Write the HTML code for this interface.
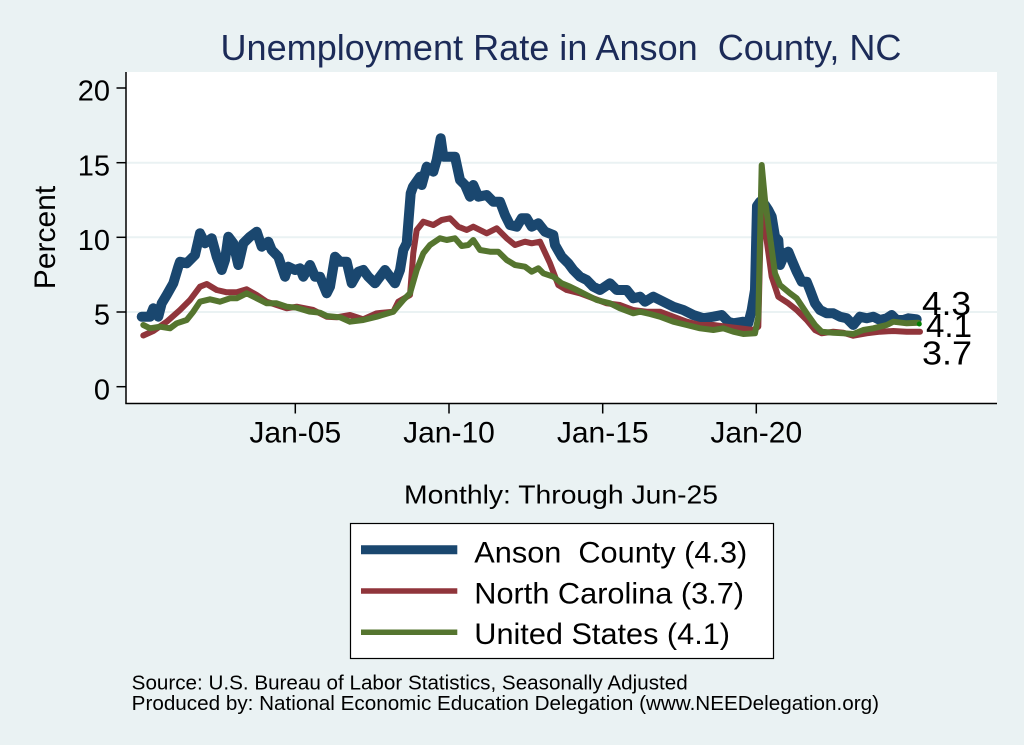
<!DOCTYPE html>
<html>
<head>
<meta charset="utf-8">
<style>
  html,body{margin:0;padding:0;background:#eaf2f3;}
  svg{display:block;}
  text{font-family:"Liberation Sans",Arial,Helvetica,sans-serif;white-space:pre;}
</style>
</head>
<body>
<svg width="1024" height="745" viewBox="0 0 1024 745" xmlns="http://www.w3.org/2000/svg">
  <rect x="0" y="0" width="1024" height="745" fill="#eaf2f3"/>
  <!-- title -->
  <text x="220.5" y="60" font-size="36" fill="#1c2b58" textLength="681" lengthAdjust="spacingAndGlyphs">Unemployment Rate in Anson  County, NC</text>

  <!-- plot region -->
  <rect x="126" y="72" width="871" height="331" fill="#ffffff"/>
  <!-- gridlines -->
  <g stroke="#eaf2f3" stroke-width="2">
    <line x1="126" y1="162.7" x2="997" y2="162.7"/>
    <line x1="126" y1="237.3" x2="997" y2="237.3"/>
    <line x1="126" y1="312" x2="997" y2="312"/>
  </g>

  <!-- series -->
  <g fill="none" stroke-linejoin="round" stroke-linecap="round">
    <polyline stroke="#1a476f" stroke-width="10" points="141.7,316.7 150,316.7 153.3,308.3 158.3,316.7 161.7,303.3 166.7,295 173.3,283.3 178.3,266.7 180,261.7 186.7,263.3 195,255 200,233.3 205,243.3 211.7,238.3 216.7,256.7 221.7,270 225,260 228.3,236.7 233.3,243.3 238.3,265 243.3,243.3 250,236.7 256.7,231.7 261.7,246.7 268.3,241.7 271.7,250 278.3,256.7 285,276.7 288.3,266.7 295,270 300,268.3 303.3,276.7 310,265 315,276.7 320,276.7 326.7,293.3 330,286.7 335,256.7 340,261.7 346.7,261.7 351.7,283.3 358.3,271.7 363.3,270 368.3,276.7 375,283.3 380,276.7 385,270 390,276.7 395,283.3 400,270 403.3,250 406.7,243.3 410.7,193.3 413,186.7 420,176.7 421.7,185 426.7,166.7 433.3,171.7 436.7,160 440.7,138.3 443.3,156.7 450,156.7 455,156.7 460,180 465,185 470,196.7 473.3,185 478.3,196.7 486.7,195 493.3,201.7 500,201.7 505,215 510,225 516.7,226.7 521.7,218.3 526.7,218.3 531.7,226.7 538.3,223.3 545,231.7 553.3,235 555,245 561.7,256.7 568.3,263.3 573.3,270 580,276.7 586.7,280 593.3,286.7 600,290 610,283.3 616.7,290 626.7,290 633.3,298.3 640,296.7 645,301.7 653.3,296.7 663.3,301.7 673.3,306.7 683.3,310 693.3,315 703.3,318.3 713.3,316.7 721.7,315 728.3,321.7 733.3,323.3 743.3,321.7 748.3,323.3 751.7,310 755,290 757,206 760,201.7 765,205 768.3,210 771.7,216.7 775,236.7 778.3,240 780,265 785,253.3 788.3,251.7 791.7,260 796.7,271.7 801.7,281.7 806.7,281.7 810,290 815,303.3 820,310 826.7,313.3 833.3,313.3 840,316.7 846.7,318.3 853.3,325 860,316.7 866.7,318.3 873.3,316.7 880,320 886.7,318.3 891.7,315 896.7,320 903.3,320 908.3,318.3 916.7,319.3"/>
    <polyline stroke="#90353b" stroke-width="6" points="143.3,335.5 153.3,331 166.7,321.7 180,310 190,300 200,286.7 206.7,284 216.7,290 226.7,292.3 236.7,292.3 246.7,289.3 256.7,295 266.7,301.7 276.7,305 286.7,308.3 296.7,306.7 313.3,310 326.7,316.7 336.7,317.3 350,315 363.3,319.3 376.7,313.3 393.3,311.7 398.3,301.7 410,295 413.3,253 416.7,230 423.3,221.7 433.3,225 441.7,220 450,218.3 458.3,226.7 466.7,230 473.3,226.7 486.7,233.3 496.7,228.3 506.7,238.3 515,245 525,241.7 531.7,243.3 540,241.7 550,263.3 558.3,285 566.7,290 580,293.3 593.3,298.3 606.7,303.3 620,305 633.3,310 646.7,311.7 660,311.7 673.3,316.7 686.7,321.7 700,325 713.3,325 726.7,326.7 740,328.3 753.3,330 758.3,326.7 761.7,185 765,228.3 771.7,276.7 778.3,296.7 788.3,303.3 796.7,310 806.7,320 815,330 821.7,333.3 833.3,331.7 843.3,332.7 853.3,335.7 866.7,333.3 880,331.7 893.3,331 906.7,331.7 920,331.7"/>
    <polyline stroke="#55752f" stroke-width="6" points="143.3,325 150,328.3 160,326.7 170,328.3 176.7,323.3 186.7,320 193.3,311.7 200,301.7 210,299.3 220,301.7 230,298.3 236.7,298.3 246.7,293.3 256.7,298.3 266.7,303.3 276.7,303.3 286.7,306.7 296.7,307.7 310,311.7 320,312.7 326.7,316 340,317.3 350,321.7 363.3,320 376.7,316.7 393.3,311.7 403.3,300 410,293.3 416.7,270 423.3,253.3 430,245 440,238.3 446.7,240 455,238.3 461.7,246 468.3,245 473.3,240 480,250 490,251.7 498.3,251.7 506.7,260 515,265 525,266.7 531.7,271.7 538.3,268.3 543.3,273.3 553.3,276.7 561.7,283.3 570,286.7 576.7,290 586.7,295 596.7,300 610,303.3 620,308.3 633.3,313.3 640,311.7 650,314 660,316.7 673.3,321.7 686.7,325 700,328.3 713.3,330 723.3,328.3 733.3,331.7 743.3,334 755,333.3 758.3,316.7 761.7,165 765,200 770,236.7 775,273.3 780,285 790,293.3 796.7,298.3 806.7,313.3 815,325 821.7,331.7 833.3,332.7 843.3,333.3 853.3,334 863.3,330 873.3,328.3 886.7,325 893.3,321.7 906.7,323.3 918.3,322.7"/>
  </g>
  <circle cx="919.3" cy="324" r="2.5" fill="#008000"/>

  <!-- end labels -->
  <text x="922" y="315" font-size="33" fill="#000" textLength="49" lengthAdjust="spacingAndGlyphs">4.3</text>
  <text x="926" y="337" font-size="33" fill="#000" textLength="46" lengthAdjust="spacingAndGlyphs">4.1</text>
  <text x="922" y="364.5" font-size="33" fill="#000" textLength="50" lengthAdjust="spacingAndGlyphs">3.7</text>

  <!-- axes -->
  <g stroke="#000" stroke-width="1.5">
    <line x1="126" y1="72" x2="126" y2="403.5"/>
    <line x1="125.3" y1="403.5" x2="997" y2="403.5"/>
    <line x1="116.5" y1="88" x2="126" y2="88"/>
    <line x1="116.5" y1="162.7" x2="126" y2="162.7"/>
    <line x1="116.5" y1="237.3" x2="126" y2="237.3"/>
    <line x1="116.5" y1="312" x2="126" y2="312"/>
    <line x1="116.5" y1="386.7" x2="126" y2="386.7"/>
    <line x1="295.3" y1="403.5" x2="295.3" y2="413.5"/>
    <line x1="449" y1="403.5" x2="449" y2="413.5"/>
    <line x1="602.7" y1="403.5" x2="602.7" y2="413.5"/>
    <line x1="756.3" y1="403.5" x2="756.3" y2="413.5"/>
  </g>

  <!-- y tick labels -->
  <g font-size="29" fill="#000" text-anchor="end">
    <text x="110" y="100.7">20</text>
    <text x="110" y="175.4">15</text>
    <text x="110" y="250">10</text>
    <text x="110" y="324.7">5</text>
    <text x="110" y="399.4">0</text>
  </g>
  <text transform="translate(55,237.5) rotate(-90)" font-size="30" fill="#000" text-anchor="middle">Percent</text>

  <!-- x tick labels -->
  <g font-size="30" fill="#000" text-anchor="middle">
    <text x="295.3" y="442.7">Jan-05</text>
    <text x="449" y="442.7">Jan-10</text>
    <text x="602.7" y="442.7">Jan-15</text>
    <text x="756.3" y="442.7">Jan-20</text>
  </g>

  <text x="404" y="503.3" font-size="26" fill="#000" textLength="314" lengthAdjust="spacingAndGlyphs">Monthly: Through Jun-25</text>

  <!-- legend -->
  <rect x="350.5" y="523.5" width="423" height="135" fill="#ffffff" stroke="#000" stroke-width="1.2"/>
  <line x1="361" y1="549.7" x2="457.3" y2="549.7" stroke="#1a476f" stroke-width="9"/>
  <line x1="361" y1="591" x2="457.3" y2="591" stroke="#90353b" stroke-width="5.5"/>
  <line x1="361" y1="632.2" x2="457.3" y2="632.2" stroke="#55752f" stroke-width="5.5"/>
  <g font-size="29.5" fill="#000">
    <text x="474.3" y="562.7" textLength="273" lengthAdjust="spacingAndGlyphs">Anson  County (4.3)</text>
    <text x="474.3" y="603.3" textLength="269.7" lengthAdjust="spacingAndGlyphs">North Carolina (3.7)</text>
    <text x="474.3" y="644" textLength="255.7" lengthAdjust="spacingAndGlyphs">United States (4.1)</text>
  </g>

  <!-- source -->
  <g font-size="20" fill="#000">
    <text x="131.7" y="689.3" textLength="556" lengthAdjust="spacingAndGlyphs">Source: U.S. Bureau of Labor Statistics, Seasonally Adjusted</text>
    <text x="131.7" y="710" textLength="747.3" lengthAdjust="spacingAndGlyphs">Produced by: National Economic Education Delegation (www.NEEDelegation.org)</text>
  </g>
</svg>
</body>
</html>
